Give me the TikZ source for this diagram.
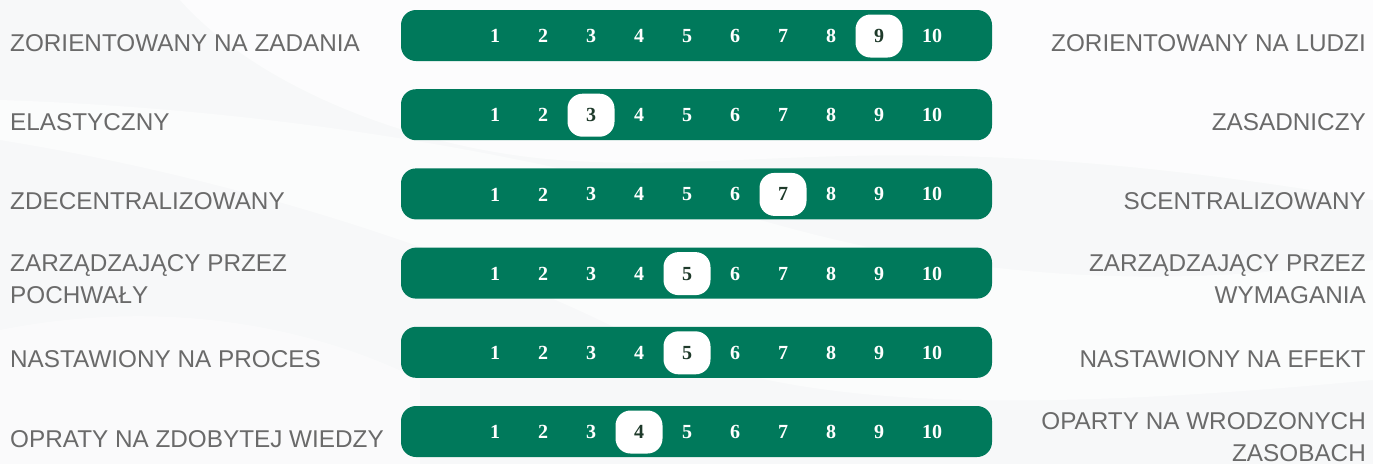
\documentclass[tikz,border=0pt]{standalone}
\usepackage{fontspec}
\setmainfont{Liberation Serif}
\newfontfamily\labfont{Liberation Sans}
\definecolor{bggray}{HTML}{EEF1F2}
\definecolor{bargreen}{HTML}{00795B}
\definecolor{seldark}{HTML}{1E3A2A}
\definecolor{labgray}{HTML}{6A6A6A}
\newcommand{\twoleft}[2]{\begin{tabular}[t]{@{}l@{}}#1\\#2\end{tabular}}
\newcommand{\tworight}[2]{\begin{tabular}[t]{@{}r@{}}#1\\#2\end{tabular}}
\begin{document}
\begin{tikzpicture}[x=1pt,y=-1pt,
  bar/.style={fill=bargreen, rounded corners=15pt, minimum width=591pt, minimum height=51pt, inner sep=0pt},
  num/.style={font=\bfseries\fontsize{20}{20}\selectfont, text=white, inner sep=0pt},
  sel/.style={fill=white, rounded corners=15pt, minimum width=47pt, minimum height=43pt, text=seldark},
  lab/.style={font=\labfont\fontsize{24.3}{32}\selectfont, text=labgray, inner sep=0pt}]
\useasboundingbox (0,0) rectangle (1373,464);
% background
\fill[bggray] (0,0) rectangle (1373,464);
\fill[white, opacity=0.7] (180,0) .. controls (260,90) and (420,150) .. (560,160) .. controls (760,175) and (900,120) .. (1373,200) -- (1373,0) -- cycle;
\fill[white, opacity=0.6] (0,140) .. controls (250,180) and (480,260) .. (620,330) .. controls (760,400) and (950,420) .. (1373,380) -- (1373,260) .. controls (1100,300) and (900,260) .. (760,220) .. controls (560,160) and (300,110) .. (0,100) -- cycle;
\fill[white, opacity=0.55] (0,0) rectangle (1373,464);
\fill[white, opacity=0.4] (0,330) .. controls (150,300) and (300,320) .. (420,380) -- (420,464) -- (0,464) -- cycle;
% bars
\foreach \s [count=\r] in {9,3,7,5,5,4}{
  \pgfmathsetmacro\cy{35.5+79.2*(\r-1)}
  \node[bar] (bar\r) at (696.5,\cy) {};
  \foreach \i in {1,...,9}{
    \pgfmathsetmacro\cx{495+48*(\i-1)}
    \ifnum\i=\s
      \node[num,sel] (n\r-\i) at (\cx,\cy+0.5) {\i};
    \else
      \node[num] (n\r-\i) at (\cx,\cy+0.5) {\i};
    \fi
  }
  \node[num,anchor=west] (n\r-10) at (922,\cy+0.5) {10};
}
% left labels
\node[lab,anchor=base west] (l1) at (10,51) {ZORIENTOWANY NA ZADANIA};
\node[lab,anchor=base west] (l2) at (10,130.2) {ELASTYCZNY};
\node[lab,anchor=base west] (l3) at (10,209.4) {ZDECENTRALIZOWANY};
\node[lab,anchor=base west] (l4) at (10,271.6) {\twoleft{ZARZĄDZAJĄCY PRZEZ}{POCHWAŁY}};
\node[lab,anchor=base west] (l5) at (10,367.8) {NASTAWIONY NA PROCES};
\node[lab,anchor=base west] (l6) at (10,447) {OPRATY NA ZDOBYTEJ WIEDZY};
% right labels
\node[lab,anchor=base east] (r1) at (1366,51) {ZORIENTOWANY NA LUDZI};
\node[lab,anchor=base east] (r2) at (1366,130.2) {ZASADNICZY};
\node[lab,anchor=base east] (r3) at (1366,209.4) {SCENTRALIZOWANY};
\node[lab,anchor=base east] (r4) at (1366,271.6) {\tworight{ZARZĄDZAJĄCY PRZEZ}{WYMAGANIA}};
\node[lab,anchor=base east] (r5) at (1366,367.8) {NASTAWIONY NA EFEKT};
\node[lab,anchor=base east] (r6) at (1366,429) {\tworight{OPARTY NA WRODZONYCH}{ZASOBACH}};
\end{tikzpicture}
\end{document}
